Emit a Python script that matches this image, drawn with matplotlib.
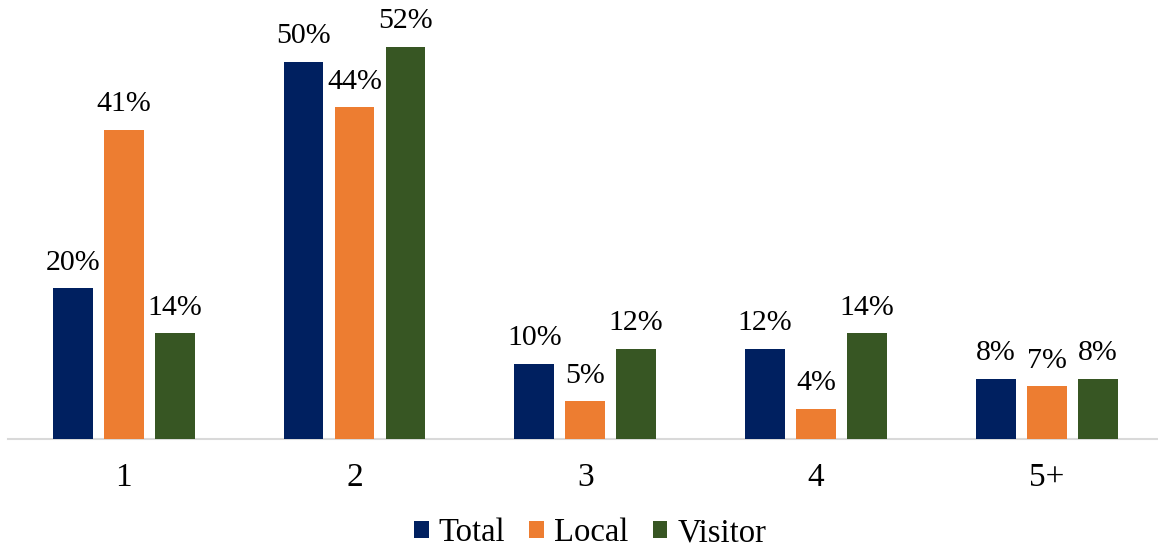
import numpy as np
import matplotlib
matplotlib.use("Agg")
import matplotlib.pyplot as plt

categories = ["1", "2", "3", "4", "5+"]
series_names = ["Total", "Local", "Visitor"]
total = [20, 50, 10, 12, 8]
local = [41, 44, 5, 4, 7]
visitor = [14, 52, 12, 14, 8]
COLORS = ["#002060", "#ED7D31", "#375623"]

plt.rcParams["font.family"] = ["Liberation Serif", "DejaVu Serif"]

W, H = 1158, 550
fig = plt.figure(figsize=(W / 100, H / 100), dpi=100)
# axes in pixel terms: left 8, right 1160, baseline at y=439, top at y=10
ax = fig.add_axes([8 / W, (H - 439) / H, (1158 - 8) / W, (439 - 10) / H])

x = np.arange(len(categories))
step, width = 0.221, 0.173
for i, (name, vals) in enumerate(zip(series_names, [total, local, visitor])):
    pos = x + (i - 1) * step
    bars = ax.bar(pos, vals, width=width, color=COLORS[i], label=name, zorder=3)
    for b, v in zip(bars, vals):
        ax.annotate(f"{v}%", (b.get_x() + b.get_width() / 2, v),
                    xytext=(0, 9), textcoords="offset points",
                    ha="center", va="bottom", fontsize=21.5)

ax.set_xlim(-0.502, 4.483)
ax.set_ylim(0, 429 / 7.54)
ax.set_xticks(x)
ax.set_xticklabels(categories, fontsize=24)
ax.tick_params(axis="x", length=0, pad=17)
ax.set_yticks([])
for s in ["top", "right", "left"]:
    ax.spines[s].set_visible(False)
ax.spines["bottom"].set_color("#D9D9D9")
ax.spines["bottom"].set_linewidth(1.5)

fig.legend(loc="center", bbox_to_anchor=(590 / W, 1 - 533 / H), ncol=3,
           frameon=False, fontsize=23.5, handlelength=0.45, handleheight=0.45,
           handletextpad=0.3, columnspacing=0.75, borderpad=0.1)

fig.savefig("out.png", dpi=100)
